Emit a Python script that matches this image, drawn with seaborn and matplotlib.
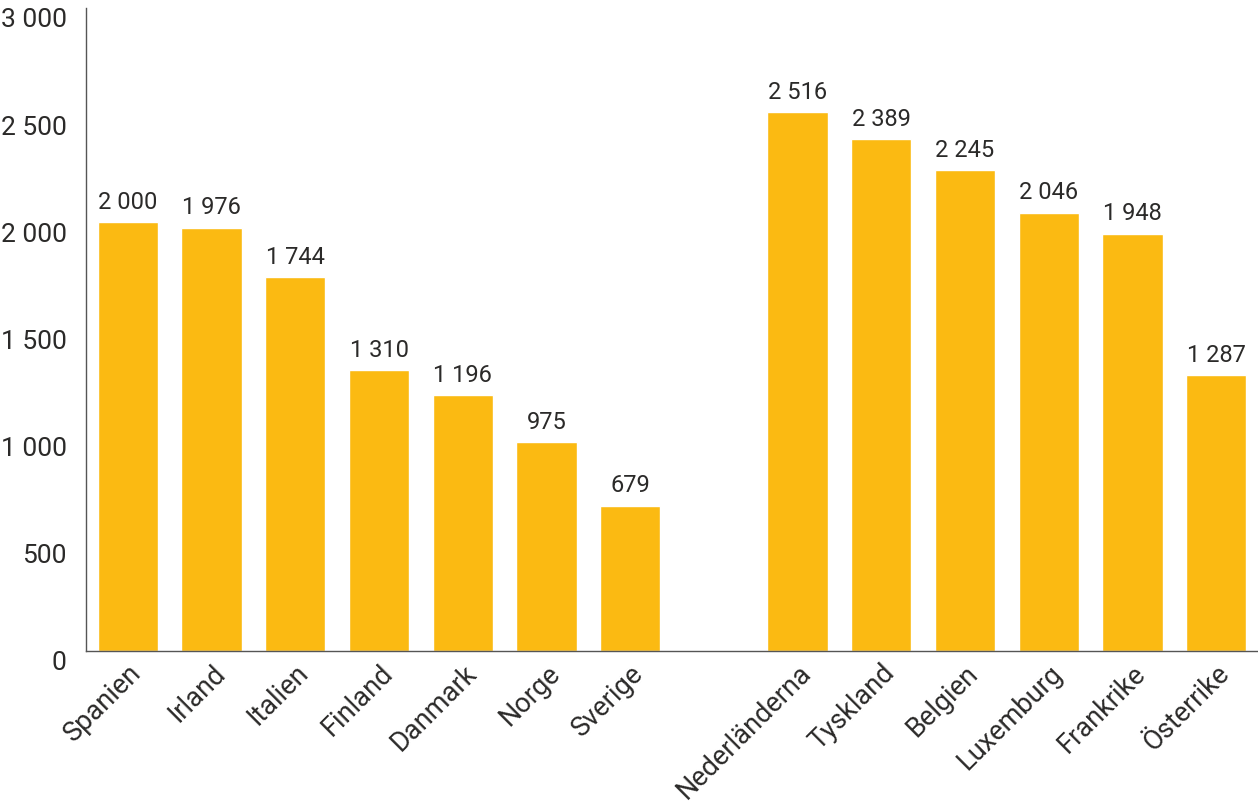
import pandas as pd
import matplotlib.pyplot as plt
import matplotlib.transforms as mtransforms
import seaborn as sns

# data
countries_a = ["Spanien", "Irland", "Italien", "Finland", "Danmark", "Norge", "Sverige"]
values_a = [2000, 1976, 1744, 1310, 1196, 975, 679]
countries_b = ["Nederländerna", "Tyskland", "Belgien", "Luxemburg", "Frankrike", "Österrike"]
values_b = [2516, 2389, 2245, 2046, 1948, 1287]
y_ticks = [0, 500, 1000, 1500, 2000, 2500, 3000]

bar_color = "#FBBA12"
text_color = "#2B2A29"

sns.set_theme(style="white")
plt.rcParams["font.family"] = ["Roboto", "DejaVu Sans"]

df = pd.DataFrame({"land": countries_a + countries_b, "varde": values_a + values_b})
order = countries_a + [" "] + countries_b  # tom plats mellan grupperna

fig = plt.figure(figsize=(12.58, 8.10), dpi=100)
ax = fig.add_axes([0.0684, 0.196, 0.9316, 0.794])

sns.barplot(data=df, x="land", y="varde", order=order, color=bar_color,
            saturation=1, width=0.72, ax=ax)

for cont in ax.containers:
    labels = [f"{int(v):,}".replace(",", " ") for v in cont.datavalues]
    ax.bar_label(cont, labels=labels, padding=6, fontsize=17, color=text_color)

ax.set_xlim(-0.5, len(order) - 0.5)
ax.set_ylim(0, 3000)
ax.set_yticks(y_ticks)
ax.set_yticklabels([f"{t:,}".replace(",", " ") for t in y_ticks])
ax.set_xlabel("")
ax.set_ylabel("")
ax.tick_params(axis="both", length=0, colors=text_color)
ax.tick_params(axis="y", pad=14, labelsize=19)
ax.tick_params(axis="x", pad=6, labelsize=19.5)
plt.setp(ax.get_xticklabels(), rotation=45, ha="right", va="top",
         rotation_mode="anchor")

# y-etiketterna sitter lite under sina värden i förlagan
shift = mtransforms.ScaledTranslation(0, -7 / 72, fig.dpi_scale_trans)
for lab in ax.get_yticklabels():
    lab.set_transform(lab.get_transform() + shift)

sns.despine(ax=ax, top=True, right=True)
for side in ["left", "bottom"]:
    ax.spines[side].set_color("#555555")
    ax.spines[side].set_linewidth(1.0)

fig.savefig("out.png", dpi=100)
